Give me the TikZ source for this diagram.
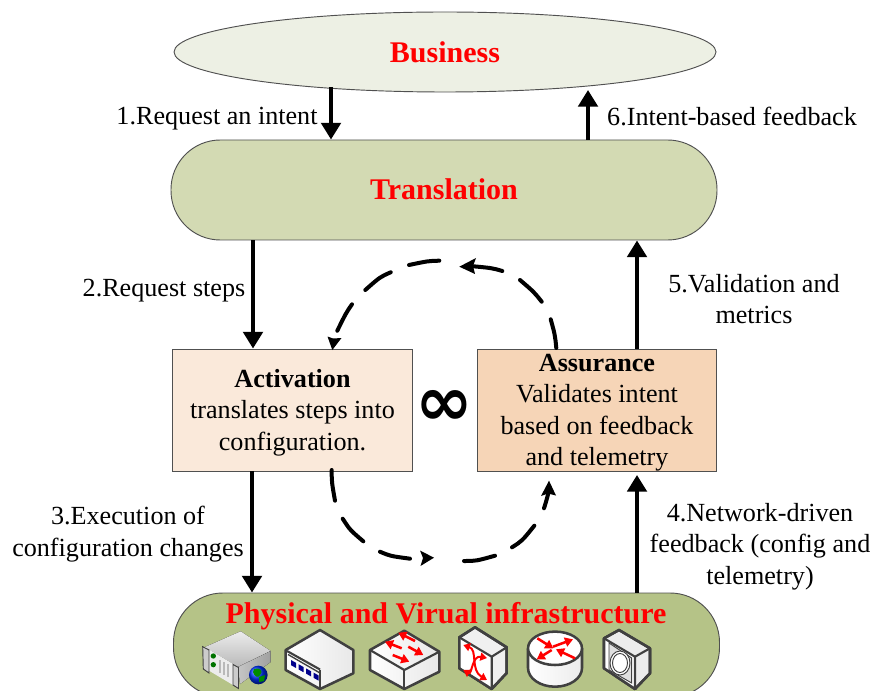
\documentclass[tikz,border=0pt]{standalone}
\usepackage{fontspec}
\setmainfont{Liberation Serif}
\newfontfamily\infont{DejaVu Sans}
\usetikzlibrary{arrows.meta}
\definecolor{bizfill}{HTML}{EDF0E4}
\definecolor{transfill}{HTML}{D3DAB3}
\definecolor{physfill}{HTML}{B5C387}
\definecolor{actfill}{HTML}{FAE9DA}
\definecolor{assfill}{HTML}{F6D5B7}
\definecolor{edgegray}{HTML}{505050}
\definecolor{devline}{HTML}{404040}
\tikzset{
  lbl/.style={font=\fontsize{19.6}{23.6}\selectfont,align=center,inner sep=0pt,text=black},
  head/.style={font=\fontsize{22.5}{26}\selectfont\bfseries,text=red,inner sep=0pt},
  pill/.style={draw=edgegray,line width=.7pt,rounded corners=37pt,minimum width=409.5pt,inner sep=0pt},
  boxn/.style={draw=edgegray,line width=.7pt,minimum width=179.5pt,minimum height=91.5pt,inner sep=0pt},
  flow/.style={line width=3pt,-{Triangle[length=12.5pt,width=14.5pt]},black},
  dashp/.style={line width=3pt,line cap=round,black},
  tipp/.style={fill=black,draw=none},
  dev/.style={draw=devline,line width=1.9pt,line join=round},
  devthin/.style={draw=devline,line width=.7pt},
  redarr/.style={draw=red,line width=1.9pt,-{Triangle[length=6pt,width=7pt]}},
  redboth/.style={draw=red,line width=1.5pt,{Triangle[length=5pt,width=6pt]}-{Triangle[length=5pt,width=6pt]}},
}
\begin{document}
\begin{tikzpicture}[x=.75pt,y=-.75pt]
\useasboundingbox (0,0) rectangle (873,691);
\clip (0,0) rectangle (873,691);
% main shapes
\draw[draw=edgegray,fill=bizfill,line width=.7pt] (445,52) ellipse [x radius=271,y radius=40];
\node[inner sep=0pt,minimum size=0pt,draw=none] (biz) at (445,52) {};
\node[head] (biztext) at (445,52) {Business};
\node[pill,fill=transfill,minimum height=75pt] (trans) at (444,190) {};
\node[head] (transtext) at (444,189) {Translation};
\node[pill,fill=physfill,minimum height=78pt] (phys) at (446.5,645) {};
\node[head] (phystext) at (446,616) {Physical and Virual infrastructure};
\node[boxn,fill=actfill] (act) at (292.5,410) {};
\node[boxn,fill=assfill] (ass) at (597,410) {};
\node[lbl] (acttext) at (292.5,412.5) {\textbf{Activation}\\translates steps into\\configuration.};
\node[lbl] (asstext) at (597,412.5) {\textbf{Assurance}\\Validates intent\\based on feedback\\and telemetry};
\node[inner sep=0pt,font=\infont\fontsize{52}{52}\selectfont\bfseries] (inf) at (444.5,408) {∞};
% main flows
\coordinate (a1) at (331,87);
\coordinate (a6) at (588,90);
\draw[flow] (a1) -- (a1 |- trans.north);
\draw[flow] (a6 |- trans.north) -- (a6);
\coordinate (a2) at (253,238);
\draw[flow] (a2 |- trans.south) -- (a2 |- act.north);
\coordinate (a5) at (637,240);
\draw[flow] (a5 |- ass.north) -- (a5 |- trans.south);
\coordinate (a3) at (252,471);
\draw[flow] (a3 |- act.south) -- (a3 |- phys.north);
\coordinate (a4) at (637,475);
\draw[flow] (a4 |- phys.north) -- (a4);
% labels
\node[lbl] (l1) at (217,119) {1.Request an intent};
\node[lbl] (l6) at (732,116) {6.Intent-based feedback};
\node[lbl] (l2) at (164,291) {2.Request steps};
\node[lbl] (l5) at (754,299) {5.Validation and\\metrics};
\node[lbl] (l3) at (128,534) {3.Execution of\\configuration changes};
\node[lbl] (l4) at (760,546.5) {4.Network-driven\\feedback (config and\\telemetry)};
% dashed loop, upper
\draw[dashp] (556.3,348) .. controls (555,335) .. (550.7,319.3);
\draw[dashp] (541.7,301.7) .. controls (534,292) .. (520,280);
\draw[dashp] (502.3,271) .. controls (492,268) .. (470,266);
\fill[tipp] (459.3,266.7) -- (476,258) -- (473,266) -- (475,274) -- cycle;
\draw[dashp] (439.3,260.7) .. controls (428,261) .. (409,265);
\draw[dashp] (390.7,272.3) .. controls (380,277) .. (365.3,290);
\draw[dashp] (352,304.3) .. controls (346,313) .. (337.3,330.7);
\fill[tipp] (332.3,350) -- (327.5,336.5) -- (333,338.5) -- (341.5,338) -- cycle;
% dashed loop, lower
\draw[dashp] (331.7,470) .. controls (331.7,482) .. (335,500.7);
\draw[dashp] (342.7,518.7) .. controls (350,530) .. (363.3,541.3);
\draw[dashp] (380,551.7) .. controls (390,556) .. (410,558.7);
\fill[tipp] (434,557.7) -- (420,550.5) -- (423,558) -- (420.5,566) -- cycle;
\draw[dashp] (464,561) .. controls (476,561) .. (495,555.7);
\draw[dashp] (512,547.3) .. controls (522,541) .. (534.3,525.7);
\draw[dashp] (544,508.3) .. controls (546,502) .. (548.3,493.3);
\fill[tipp] (549,480.7) -- (541,496) -- (548,493.5) -- (556,495.5) -- cycle;
% server
\fill[top color=gray!15,bottom color=gray!55] (240.7,631.3) -- (270.7,651) -- (238,667) -- (205,647) -- cycle;
\fill[left color=gray!45,right color=gray!75] (270.7,651) -- (270.7,662) -- (240,684) -- (238,667) -- cycle;
\fill[gray!15] (205,647) -- (238.5,667.3) -- (238.5,688.3) -- (205,668.3) -- cycle;
\draw[devthin,fill=gray!40] (202.7,646.7) -- (209,650) -- (209,673) -- (203.3,669) -- cycle;
\draw[devthin,fill=gray!40] (233,664.5) -- (238.5,667.5) -- (238.5,688.5) -- (233,685) -- cycle;
\fill[green!45!black] (213.3,656) circle (2pt) (213.3,664.7) circle (2pt);
\foreach \xs in {220,224,228}{\draw[gray!55,line width=1.5pt] (\xs,\xs/2+550) -- +(0,13);}
\shade[ball color=blue!80!cyan] (258.3,675) circle (7pt);
\fill[green!55!black] (254,669) .. controls (260,667) and (264,671) .. (260,675) .. controls (258,679) and (254,676) .. (253,672) -- cycle;
\fill[green!55!black] (259,677) -- (265,675) -- (264,681) -- (259,682) -- cycle;
% device 2
\draw[dev,left color=white,right color=gray!18] (320,630) -- (353.3,650) -- (353.3,673.3) -- (320,689) -- (285.7,670) -- (285.7,650) -- cycle;
\draw[dev] (320,689) -- (320,669.5);
\draw[line width=1.6pt,devline] (287,651) -- (320,669.5);
\draw[line width=1pt,devline] (288,654.5) -- (320,673);
\foreach \k in {0,1,2,3}{\fill[blue!55!black] (291+\k*7.5,660+\k*4.2) -- +(5,2.8) -- +(5,8) -- +(0,5.2) -- cycle;}
% switch
\draw[dev,left color=white,right color=gray!18] (404.3,630.7) -- (439.3,651.7) -- (439.3,671.7) -- (404.3,689) -- (370,670) -- (370,650) -- cycle;
\draw[line width=1.6pt,devline] (370,650) -- (404.3,670) -- (439.3,651.7);
\draw[dev,line width=1.6pt] (404.3,670) -- (404.3,689);
\draw[redarr] (415,641) -- (398.3,632.7);
\draw[redarr] (401.7,648.3) -- (385,641.7);
\draw[redarr] (408.3,646.7) -- (423.3,655);
\draw[redarr] (392.7,655) -- (409.3,661.7);
% device 4
\draw[dev,fill=gray!12] (475,627.3) -- (506.7,647.3) -- (506.7,673) -- (491.7,689) -- (459.3,668.3) -- (459.3,637.3) -- cycle;
\fill[white] (459.3,637.3) -- (491.7,656.7) -- (491.7,689) -- (459.3,668.3) -- cycle;
\draw[dev] (475,627.3) -- (506.7,647.3) -- (506.7,673) -- (491.7,689) -- (459.3,668.3) -- (459.3,637.3) -- cycle;
\draw[line width=1.6pt,devline] (459.3,637.3) -- (491.7,656.7) -- (491.7,689) (491.7,656.7) -- (506.7,647.3);
\draw[redboth] (463.3,670) .. controls (472,675) and (472,655) .. (487,658);
\draw[redboth] (463.3,645) .. controls (478,650) and (470,670) .. (487,680);
% router
\draw[dev,left color=white,right color=gray!15] (528,648.3) -- (528,668) arc [start angle=180,end angle=0,x radius=27,y radius=18.7] -- (582,648.3);
\draw[dev,fill=white] (555,648.3) ellipse [x radius=27,y radius=16.7];
\draw[redarr] (537.3,638.3) -- (553.3,648.3);
\draw[redarr] (553,646.7) -- (573,639.3);
\draw[redarr] (575,658.3) -- (556,649.3);
\draw[redarr] (551.7,650) -- (536.7,659.3);
% device 6
\draw[dev,fill=gray!15] (619,630) -- (650,648.3) -- (650,673.3) -- (635,689) -- (604,668.3) -- (604,638.3) -- cycle;
\fill[white] (604,638.3) -- (635,656.7) -- (635,689) -- (604,668.3) -- cycle;
\draw[dev] (619,630) -- (650,648.3) -- (650,673.3) -- (635,689) -- (604,668.3) -- (604,638.3) -- cycle;
\draw[line width=1.6pt,devline] (604,638.3) -- (635,656.7) -- (635,689) (635,656.7) -- (650,648.3);
\draw[devthin,fill=gray!25] (609,643) -- (631.7,658) -- (631.7,683) -- (609,670) -- cycle;
\draw[devthin,fill=white] (620,663) ellipse [x radius=10,y radius=12];
\draw[line width=.7pt,devline] (620,663) ellipse [x radius=7.5,y radius=9.5];
\end{tikzpicture}
\end{document}
